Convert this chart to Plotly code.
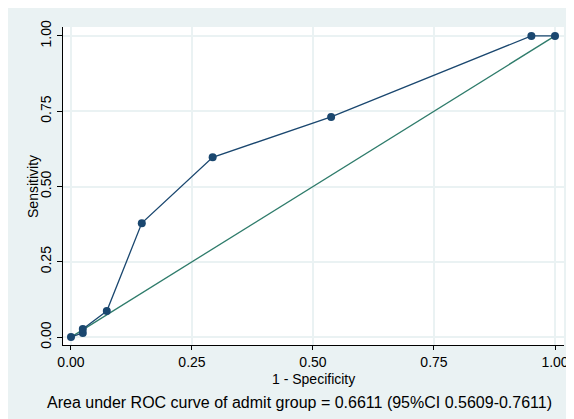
import plotly.graph_objects as go

# ROC points
one_minus_spec = [0.0, 0.0244, 0.0244, 0.0740, 0.1463, 0.2927, 0.5375, 0.9512, 1.0]
sensitivity = [0.0, 0.0140, 0.0270, 0.0865, 0.3784, 0.5970, 0.7310, 1.0, 1.0]
ref_x = [0.0, 1.0]
ref_y = [0.0, 1.0]
tick_vals = [0.0, 0.25, 0.5, 0.75, 1.0]
tick_text = ["0.00", "0.25", "0.50", "0.75", "1.00"]
x_title = "1 - Specificity"
y_title = "Sensitivity"
note = "Area under ROC curve of admit group = 0.6611 (95%CI 0.5609-0.7611)"

navy = "#1a476f"
green = "#2f7c6b"
panel = "#eaf2f3"
font = "Liberation Sans, Arial, Helvetica, sans-serif"

fig = go.Figure()
fig.add_trace(go.Scatter(x=ref_x, y=ref_y, mode="lines",
                         line=dict(color=green, width=1.3), hoverinfo="skip"))
fig.add_trace(go.Scatter(x=one_minus_spec, y=sensitivity, mode="lines+markers",
                         line=dict(color=navy, width=1.3),
                         marker=dict(color=navy, size=8)))

fig.update_layout(
    width=574, height=419,
    margin=dict(l=55, r=18, t=15, b=82),
    paper_bgcolor=panel, plot_bgcolor="white",
    showlegend=False,
    font=dict(family=font, size=14, color="black"),
    annotations=[
        dict(text=x_title, xref="paper", yref="paper", x=0.5, y=-0.106,
             xanchor="center", yanchor="middle", showarrow=False,
             font=dict(size=14)),
        dict(text=y_title, xref="paper", yref="paper", x=-0.0599, y=0.5,
             xanchor="center", yanchor="middle", showarrow=False, textangle=-90,
             font=dict(size=14)),
        dict(text=note, xref="paper", yref="paper", x=0.472, y=-0.182,
             xanchor="center", yanchor="middle", showarrow=False,
             font=dict(size=16)),
    ],
)
fig.update_xaxes(range=[-0.0165, 1.0186], tickvals=tick_vals, ticktext=tick_text,
                 showline=True, linecolor="black", linewidth=1.2,
                 ticks="outside", ticklen=4, tickcolor="black",
                 showgrid=True, gridcolor=panel, gridwidth=1.5, zeroline=False)
fig.update_yaxes(range=[-0.0262, 1.0295], tickvals=tick_vals, ticktext=tick_text,
                 tickangle=-90,
                 showline=True, linecolor="black", linewidth=1.2,
                 ticks="outside", ticklen=5, tickcolor="black",
                 showgrid=True, gridcolor=panel, gridwidth=1.5, zeroline=False)

fig.write_html("out.html")
